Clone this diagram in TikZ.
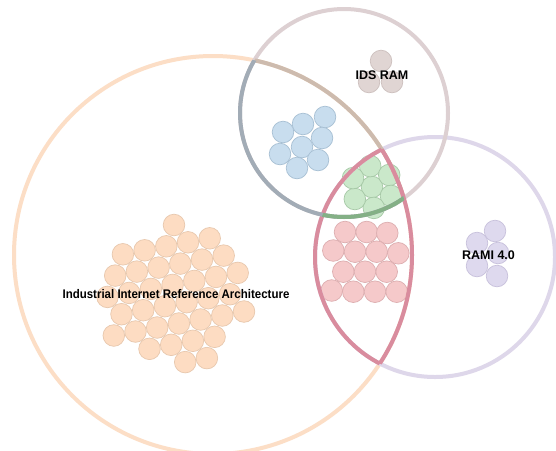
\documentclass[tikz,border=0pt]{standalone}
\usepackage{fontspec}
\setmainfont{Liberation Sans}
\definecolor{peachE}{HTML}{FCDEC6}
\definecolor{tanE}{HTML}{CDBBAE}
\definecolor{pinkE}{HTML}{D98C9E}
\definecolor{mauveE}{HTML}{DDD0D2}
\definecolor{bgreyE}{HTML}{A2ACB6}
\definecolor{greenE}{HTML}{84B086}
\definecolor{lavE}{HTML}{DED7EA}
\definecolor{peachF}{HTML}{FDDCC2}
\definecolor{peachD}{HTML}{E8C8AE}
\definecolor{blueF}{HTML}{C8DDEE}
\definecolor{blueD}{HTML}{A8C0D4}
\definecolor{greenF}{HTML}{CAE8CA}
\definecolor{greenD}{HTML}{A6C8A6}
\definecolor{pinkF}{HTML}{F5C9CA}
\definecolor{pinkD}{HTML}{DDAEB0}
\definecolor{mauveF}{HTML}{E0D5D3}
\definecolor{mauveD}{HTML}{CDC0BE}
\definecolor{lavF}{HTML}{DED9EE}
\definecolor{lavD}{HTML}{C8C1DC}
\begin{document}
\begin{tikzpicture}[x=1pt,y=-1pt,
  ring/.style={line width=4pt},
  ball/.style={circle,minimum size=21.6pt,inner sep=0pt,line width=0.7pt},
  pball/.style={ball,fill=peachF,draw=peachD},
  bball/.style={ball,fill=blueF,draw=blueD},
  gball/.style={ball,fill=greenF,draw=greenD},
  rball/.style={ball,fill=pinkF,draw=pinkD},
  mball/.style={ball,fill=mauveF,draw=mauveD},
  lball/.style={ball,fill=lavF,draw=lavD},
  lab/.style={font=\bfseries\fontsize{12.5}{14}\selectfont,anchor=base,inner sep=0pt,text=black}]
\fill[white] (0,0) rectangle (556,450);
\useasboundingbox (0,0) rectangle (556,450);
% IIRA cluster
\foreach \x/\y [count=\i] in {174/225,
  122.9/254.3,144.6/250.3,166.3/246.3,188/242.3,209.7/238.3,
  115.2/275.6,136.9/271.6,158.6/267.6,180.3/263.6,202/259.6,223.7/255.6,
  107.5/296.9,129.2/292.9,150.9/288.9,172.6/284.9,194.3/280.9,216/276.9,237.7/272.9,
  121.5/314.2,143.2/310.2,164.9/306.2,186.6/302.2,208.3/298.2,230/294.2,
  113.8/335.5,135.5/331.5,157.2/327.5,178.9/323.5,200.6/319.5,222.3/315.5,244/311.5,
  149.5/348.8,171.2/344.8,192.9/340.8,214.6/336.8,
  185.2/362.1,206.9/358.1}
  \node[pball] (o\i) at (\x,\y) {};
% IIRA & IDS cluster
\foreach \x/\y [count=\i] in {325/117,303/124,283/132,322/138,302/147,280/154,318/160,297/168}
  \node[bball] (b\i) at (\x,\y) {};
% all three
\foreach \x/\y [count=\i] in {372/187,370.2/166.1,389.2/175,391/195.9,373.8/207.9,354.8/199,353/178.1}
  \node[gball] (g\i) at (\x,\y) {};
% IIRA & RAMI
\foreach \x/\y [count=\i] in {345/232,366.7/232,387.3/233,
  333.3/250.5,355/251.7,376.7/251.7,398.3/253.3,
  343.3/271.7,365/271.7,386.7/271.7,
  331.7/290.5,353.3/291.7,375/291.7,396.7/291.7}
  \node[rball] (r\i) at (\x,\y) {};
% IDS
\foreach \x/\y [count=\i] in {381/61,369/82,392/82}
  \node[mball] (m\i) at (\x,\y) {};
% RAMI
\foreach \x/\y [count=\i] in {495/231,477/243,498/253,477/266,497/276}
  \node[lball] (l\i) at (\x,\y) {};
% rings
\draw[ring,peachE] (213,255) circle[radius=199];
\draw[ring,lavE] (435,257) circle[radius=120];
\draw[ring,mauveE] (344,113) circle[radius=104];
\begin{scope}
  \clip (344,113) circle[radius=104];
  \draw[ring,tanE] (213,255) circle[radius=199];
\end{scope}
\begin{scope}
  \clip (435,257) circle[radius=120];
  \draw[ring,pinkE] (213,255) circle[radius=199];
\end{scope}
\begin{scope}
  \clip (213,255) circle[radius=199];
  \draw[ring,pinkE] (435,257) circle[radius=120];
  \draw[ring,bgreyE] (344,113) circle[radius=104];
  \begin{scope}
    \clip (435,257) circle[radius=120];
    \draw[ring,greenE] (344,113) circle[radius=104];
  \end{scope}
\end{scope}
% labels
\node[lab] (tIIRA) at (176,298.5) {\scalebox{0.92}[1]{Industrial Internet Reference Architecture}};
\node[lab] (tIDS) at (382,79.3) {IDS RAM};
\node[lab] (tRAMI) at (488.5,259.8) {RAMI 4.0};
\end{tikzpicture}
\end{document}
